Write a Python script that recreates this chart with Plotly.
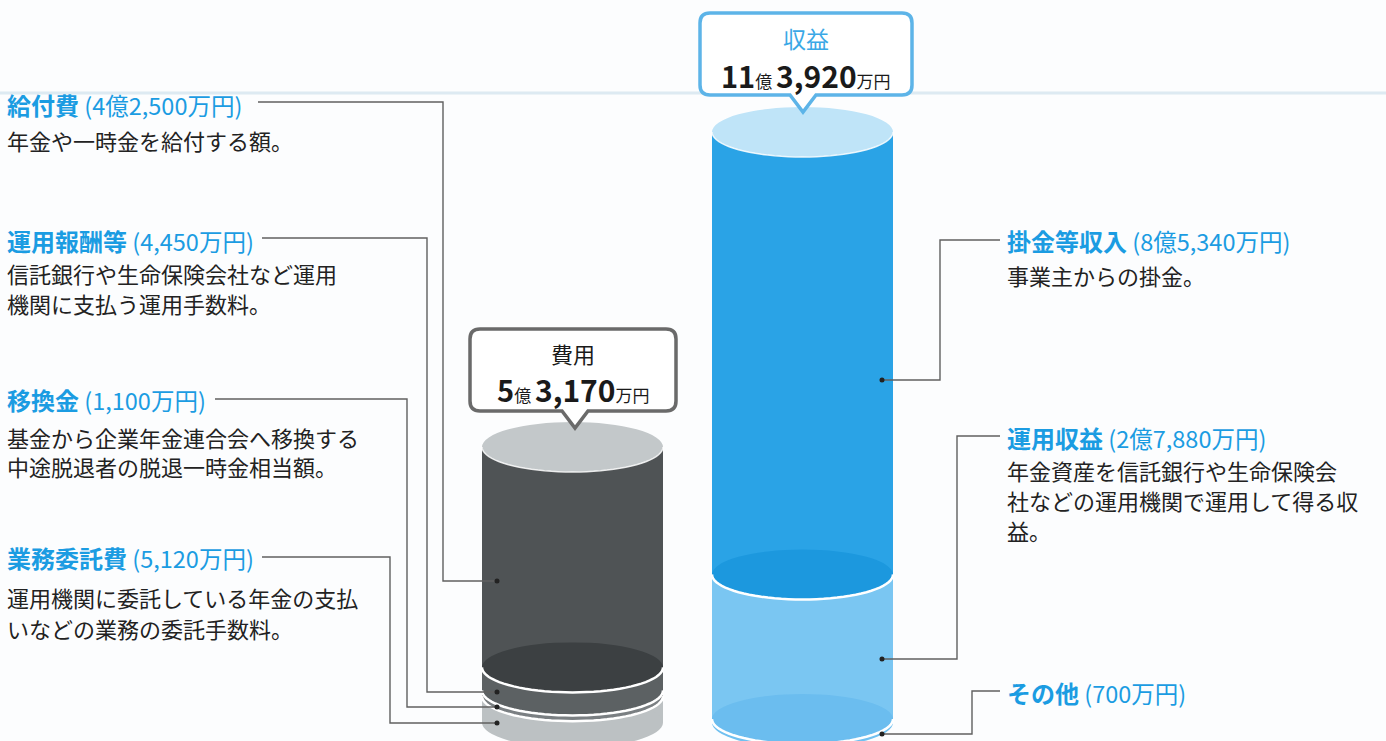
import numpy as np
import plotly.graph_objects as go

# ---------------- data (万円) ----------------
expense_labels = ["給付費", "運用報酬等", "移換金", "業務委託費"]
expense_values = [42500, 4450, 1100, 5120]
expense_desc = [
    ["年金や一時金を給付する額。"],
    ["信託銀行や生命保険会社など運用", "機関に支払う運用手数料。"],
    ["基金から企業年金連合会へ移換する", "中途脱退者の脱退一時金相当額。"],
    ["運用機関に委託している年金の支払", "いなどの業務の委託手数料。"],
]
revenue_labels = ["掛金等収入", "運用収益", "その他"]
revenue_values = [85340, 27880, 700]
revenue_desc = [
    ["事業主からの掛金。"],
    ["年金資産を信託銀行や生命保険会", "社などの運用機関で運用して得る収", "益。"],
    [],
]
expense_title = "費用"
revenue_title = "収益"

# ---------------- layout constants ----------------
W, H = 1386, 741
BASE_PX = 722.7
SCALE = 0.005185          # px per 万円
FONT = "Noto Sans CJK JP"
BLUE = "#1b9ce2"
TEXT = "#222222"
LINE = "#606060"
CYL_W = 181
RX, RY = 90.5, 25

def yd(py):
    return (BASE_PX - py) / SCALE

def fmt(v):
    oku, man = divmod(v, 10000)
    return f"{oku}億{man:,}万円" if oku else f"{man:,}万円"

cylinders = [
    dict(cx=572.5, values=expense_values,
         colors=["#4f5355", "#5c6163", "#7a7f82", "#bcc1c3"],
         surface=["#3c4042", "#5c6163", "#7a7f82", "#bcc1c3"],
         top="#c3c8ca"),
    dict(cx=802.5, values=revenue_values,
         colors=["#2aa3e6", "#7ac6f2", "#70c0f0"],
         surface=["#1c98de", "#6bbdef", "#70c0f0"],
         top="#bfe4f8"),
]

fig = go.Figure()
shapes = []

# faint background band
shapes.append(dict(type="line", xref="x", yref="y", x0=0, x1=W, y0=yd(93), y1=yd(93),
                   line=dict(color="rgba(200,222,234,0.6)", width=3), layer="below"))

def lower_arc(cx, b, color, width):
    t = np.linspace(0, np.pi, 41)
    pts = [f"{RX*np.cos(a):.2f},{-RY*np.sin(a):.2f}" for a in t]
    return dict(type="path", xref="x", yref="y", xsizemode="pixel", ysizemode="pixel",
                xanchor=cx, yanchor=b, path="M" + " L".join(pts),
                line=dict(color=color, width=width), layer="above")

for c in cylinders:
    vals = c["values"]
    total = sum(vals)
    bases = []
    acc = total
    for v in vals:
        acc -= v
        bases.append(acc)
    fig.add_trace(go.Bar(x=[c["cx"]] * len(vals), y=vals, base=bases,
                         width=[CYL_W] * len(vals),
                         marker=dict(color=c["colors"], line=dict(width=0)),
                         hoverinfo="skip"))
    for i in reversed(range(len(vals))):
        shapes.append(dict(type="circle", xref="x", yref="y", ysizemode="pixel",
                           yanchor=bases[i], y0=-RY, y1=RY,
                           x0=c["cx"] - RX, x1=c["cx"] + RX,
                           fillcolor=c["surface"][i], line=dict(width=0), layer="above"))
    for i in range(len(vals) - 1):
        shapes.append(lower_arc(c["cx"], bases[i], "white", 2.5))
    shapes.append(dict(type="circle", xref="x", yref="y", ysizemode="pixel",
                       yanchor=total, y0=-RY, y1=RY,
                       x0=c["cx"] - RX, x1=c["cx"] + RX,
                       fillcolor=c["top"], line=dict(width=0), layer="above"))
    shapes.append(lower_arc(c["cx"], total, "rgba(255,255,255,0.85)", 1.5))

# ---------------- leader lines ----------------
left_leaders = [
    [(258, 102), (443, 102), (443, 581), (497, 581)],
    [(262, 238), (427, 238), (427, 692), (497, 692)],
    [(215, 399), (407, 399), (407, 707), (497, 707)],
    [(262, 557), (390, 557), (390, 723), (497, 723)],
]
right_leaders = [
    [(1000, 240), (940, 240), (940, 380), (882, 380)],
    [(1000, 436), (957, 436), (957, 659), (882, 659)],
    [(1000, 691), (972, 691), (972, 734), (882, 734)],
]
for pts in left_leaders + right_leaders:
    path = "M" + " L".join(f"{x},{yd(y)}" for x, y in pts)
    shapes.append(dict(type="path", xref="x", yref="y", path=path,
                       line=dict(color=LINE, width=1.4), layer="above"))
    ex, ey = pts[-1]
    shapes.append(dict(type="circle", xref="x", yref="y", xsizemode="pixel", ysizemode="pixel",
                       xanchor=ex, yanchor=yd(ey), x0=-2.5, x1=2.5, y0=-2.5, y1=2.5,
                       fillcolor="#222", line=dict(width=0), layer="above"))

# ---------------- callouts ----------------
def callout(x0, y0, x1, y1, tipx, tipy, r=10, hw=13):
    p = [
        (x0 + r, y0), (x1 - r, y0), ("Q", x1, y0, x1, y0 + r), (x1, y1 - r),
        ("Q", x1, y1, x1 - r, y1), (tipx + hw, y1), (tipx, tipy), (tipx - hw, y1),
        (x0 + r, y1), ("Q", x0, y1, x0, y1 - r), (x0, y0 + r), ("Q", x0, y0, x0 + r, y0),
    ]
    s = f"M{p[0][0]},{yd(p[0][1])}"
    for q in p[1:]:
        if q[0] == "Q":
            s += f" Q{q[1]},{yd(q[2])} {q[3]},{yd(q[4])}"
        else:
            s += f" L{q[0]},{yd(q[1])}"
    return s + " Z"

shapes.append(dict(type="path", xref="x", yref="y", path=callout(700, 13, 912, 95, 803, 112),
                   fillcolor="white", line=dict(color="#5db4e8", width=3.5), layer="above"))
shapes.append(dict(type="path", xref="x", yref="y", path=callout(470, 329, 676, 411, 575, 428),
                   fillcolor="white", line=dict(color="#6a6a6a", width=3.5), layer="above"))

annotations = []

def ann(x, py, text, size, color, xanchor="left"):
    annotations.append(dict(x=x, y=yd(py), xref="x", yref="y", text=text, showarrow=False,
                            xanchor=xanchor, yanchor="middle", borderpad=0,
                            font=dict(family=FONT, size=size, color=color)))

def total_text(v):
    oku, man = divmod(v, 10000)
    return (f"<b><span style='font-size:29px'>{oku}</span></b>"
            f"<span style='font-size:17px'>億 </span>"
            f"<b><span style='font-size:30px'>{man:,}</span></b>"
            f"<span style='font-size:17px'>万円</span>")

ann(806, 38, revenue_title, 23, "#3aa8e6", "center")
ann(806, 75, total_text(sum(revenue_values)), 17, "#1a1a1a", "center")
ann(573, 353, expense_title, 22, "#1a1a1a", "center")
ann(573, 389, total_text(sum(expense_values)), 17, "#1a1a1a", "center")

TITLE_FMT = "<b>{name}</b><span style='font-size:23.5px'> ({val})</span>"

left_title_y = [104, 240, 399, 557]
left_desc_y = [[140], [273, 303], [437, 466], [597, 628]]
for name, v, ty, dys, desc in zip(expense_labels, expense_values, left_title_y, left_desc_y, expense_desc):
    ann(6, ty, TITLE_FMT.format(name=name, val=fmt(v)), 24, BLUE)
    for line, dy in zip(desc, dys):
        ann(6, dy, line, 22, TEXT)

right_title_y = [240, 437, 692]
right_desc_y = [[275], [470, 500, 530], []]
for name, v, ty, dys, desc in zip(revenue_labels, revenue_values, right_title_y, right_desc_y, revenue_desc):
    ann(1006, ty, TITLE_FMT.format(name=name, val=fmt(v)), 24, BLUE)
    for line, dy in zip(desc, dys):
        ann(1006, dy, line, 22, TEXT)

fig.update_layout(
    width=W, height=H, margin=dict(l=0, r=0, t=0, b=0),
    paper_bgcolor="#fcfdfe", plot_bgcolor="#fcfdfe",
    barmode="overlay", showlegend=False,
    xaxis=dict(range=[0, W], visible=False, fixedrange=True),
    yaxis=dict(range=[yd(H), yd(0)], visible=False, fixedrange=True),
    shapes=shapes, annotations=annotations,
)
fig.write_html("out.html", config={"displayModeBar": False})
